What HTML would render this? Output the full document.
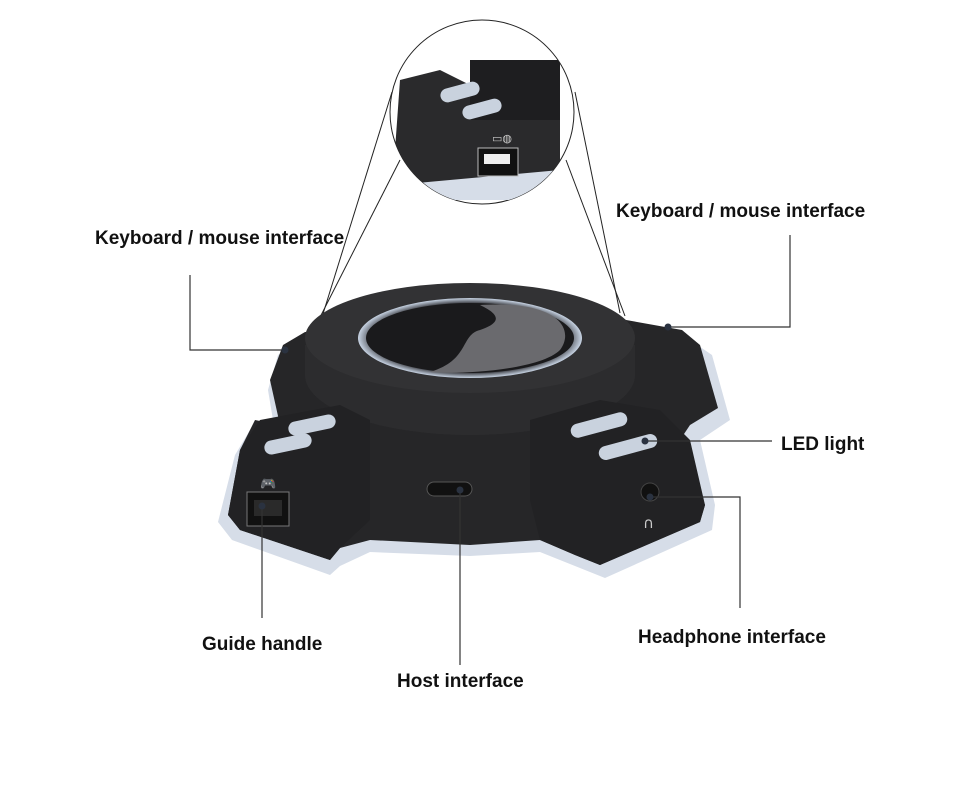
<!DOCTYPE html>
<html><head><meta charset="utf-8"><style>
html,body{margin:0;padding:0;background:#fff;}
.lbl{font-family:"Liberation Sans Narrow","Liberation Sans",sans-serif;font-weight:bold;font-size:19px;fill:#111;}
</style></head><body>
<svg width="978" height="800" viewBox="0 0 978 800" xmlns="http://www.w3.org/2000/svg">
<rect width="978" height="800" fill="#fff"/>
<defs>
<clipPath id="mag"><circle cx="482" cy="112" r="92"/></clipPath>
<radialGradient id="led" cx="50%" cy="50%" r="50%"><stop offset="0" stop-color="#1c1c1e"/><stop offset="0.85" stop-color="#2a2a2e"/><stop offset="1" stop-color="#c8d4e4"/></radialGradient>
</defs>
<!-- zoom lines -->
<g stroke="#222" stroke-width="1" fill="none">
<line x1="312" y1="333" x2="400" y2="160"/>
<line x1="318" y1="330" x2="392" y2="92"/>
<line x1="625" y1="316" x2="566" y2="160"/>
<line x1="620" y1="313" x2="575" y2="92"/>
</g>
<!-- magnifier -->
<circle cx="482" cy="112" r="92" fill="#fff" stroke="#222" stroke-width="1"/>
<g clip-path="url(#mag)">
<polygon points="395,150 400,80 440,70 470,85 520,60 560,70 560,180 395,190" fill="#2a2a2c"/>
<polygon points="395,185 560,170 560,200 395,200" fill="#d6dde8"/>
<rect x="470" y="60" width="90" height="60" fill="#1e1e20"/>
<rect x="440" y="85" width="40" height="14" rx="7" fill="#c9d2de" transform="rotate(-15 460 92)"/>
<rect x="462" y="102" width="40" height="14" rx="7" fill="#c9d2de" transform="rotate(-15 482 109)"/>
<rect x="478" y="148" width="40" height="28" fill="#111" stroke="#bbb"/>
<rect x="484" y="154" width="26" height="10" fill="#eee"/>
<text x="492" y="142" font-size="11" fill="#ccc" font-family="Liberation Sans">▭◍</text>
</g>
<!-- base -->
<polygon points="278,355 300,340 620,325 690,340 712,355 730,420 700,440 715,505 712,530 605,578 575,566 540,552 470,556 370,552 340,566 330,575 232,540 218,522 235,455 250,430 275,432 268,390" fill="#d6dde8"/>
<!-- body -->
<polygon points="283,345 305,332 615,318 682,330 700,345 718,408 690,425 680,440 705,505 700,522 600,565 575,555 540,540 470,545 370,540 340,548 330,560 240,530 228,515 240,450 255,420 280,425 270,380" fill="#262628"/>
<!-- disc -->
<ellipse cx="470" cy="375" rx="165" ry="60" fill="#2c2c2e"/>
<path d="M305,345 L305,375 A165,60 0 0 0 635,375 L635,345 Z" fill="#2c2c2e"/>
<ellipse cx="470" cy="338" rx="165" ry="55" fill="#323234"/>
<ellipse cx="470" cy="338" rx="112" ry="40" fill="url(#led)"/>
<ellipse cx="470" cy="338" rx="104" ry="35" fill="#1a1a1c"/>
<path d="M480,305 C560,300 575,330 560,350 C540,370 460,375 430,372 C470,360 460,335 480,330 C510,320 490,310 480,305 Z" fill="#6a6a6e"/>
<!-- left block -->
<polygon points="240,450 260,420 340,405 370,420 370,520 340,548 330,560 240,530 228,515" fill="#222224"/>
<rect x="288" y="418" width="48" height="14" rx="7" fill="#c9d2de" transform="rotate(-12 312 425)"/>
<rect x="264" y="437" width="48" height="14" rx="7" fill="#c9d2de" transform="rotate(-12 288 444)"/>
<rect x="247" y="492" width="42" height="34" fill="#111" stroke="#777"/>
<rect x="254" y="500" width="28" height="16" fill="#2a2a2a"/>
<text x="260" y="488" font-size="13" fill="#bbb" font-family="DejaVu Sans">🎮</text>
<!-- right block -->
<polygon points="530,420 600,400 660,410 690,440 705,505 700,522 600,565 575,555 540,540 530,500" fill="#222224"/>
<rect x="570" y="418" width="58" height="14" rx="7" fill="#c9d2de" transform="rotate(-15 599 425)"/>
<rect x="598" y="440" width="60" height="14" rx="7" fill="#c9d2de" transform="rotate(-15 628 447)"/>
<circle cx="650" cy="492" r="9" fill="#111" stroke="#444"/>
<text x="643" y="528" font-size="15" fill="#ccc" font-family="DejaVu Sans">∩</text>
<!-- usb-c -->
<rect x="427" y="482" width="45" height="14" rx="7" fill="#111" stroke="#555"/>
<!-- callout lines -->
<g stroke="#333" stroke-width="1.2" fill="none">
<polyline points="190,275 190,350 285,350"/>
<polyline points="790,235 790,327 668,327"/>
<line x1="645" y1="441" x2="772" y2="441"/>
<polyline points="650,497 740,497 740,608"/>
<line x1="262" y1="506" x2="262" y2="618"/>
<line x1="460" y1="490" x2="460" y2="665"/>
</g>
<g fill="#2a3240">
<circle cx="285" cy="350" r="3.5"/><circle cx="668" cy="327" r="3.5"/><circle cx="645" cy="441" r="3.5"/>
<circle cx="650" cy="497" r="3.5"/><circle cx="262" cy="506" r="3.5"/><circle cx="460" cy="490" r="3.5"/>
</g>
<!-- labels -->
<text class="lbl" x="95" y="244">Keyboard / mouse interface</text>
<text class="lbl" x="616" y="217">Keyboard / mouse interface</text>
<text class="lbl" x="781" y="450">LED light</text>
<text class="lbl" x="638" y="643">Headphone interface</text>
<text class="lbl" x="202" y="650">Guide handle</text>
<text class="lbl" x="397" y="687">Host interface</text>
</svg>
</body></html>
